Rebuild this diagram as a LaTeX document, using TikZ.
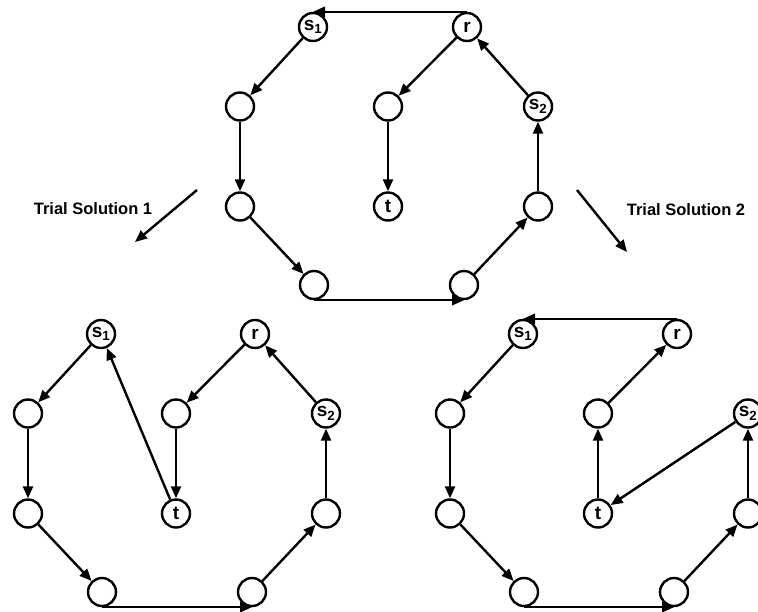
\documentclass[tikz,border=0pt]{standalone}
\usepackage{fontspec}
\setmainfont{Liberation Sans}
\usetikzlibrary{arrows.meta, positioning}

\begin{document}
\begin{tikzpicture}[x=1pt, y=-1pt, >={Triangle[length=12pt,width=10pt]}, line width=2.4pt]
    % Define styles locally
    \tikzstyle{vertex} = [circle, draw, minimum size=28pt, inner sep=0pt, font=\fontsize{19}{19}\selectfont\bfseries]
    \tikzstyle{caption} = [font=\fontsize{16.5}{18}\selectfont\bfseries]
    \useasboundingbox (0,0) rectangle (758,611);

    % Vertices: one layout, shifted for each graph
    \foreach \g/\ox/\oy in {A/313/27, B/101/334, C/523/334} {
        \begin{scope}[shift={(\ox,\oy)}]
            \node[vertex] (\g-s1) at (0,0) {s\textsubscript{1}};
            \node[vertex] (\g-r) at (154,0) {r};
            \node[vertex] (\g-u) at (-73,79.5) {};
            \node[vertex] (\g-m) at (75,79.5) {};
            \node[vertex] (\g-s2) at (225,79.5) {s\textsubscript{2}};
            \node[vertex] (\g-l) at (-73,179.5) {};
            \node[vertex] (\g-t) at (75,179.5) {t};
            \node[vertex] (\g-q) at (225,179.5) {};
            \node[vertex] (\g-b1) at (1,258) {};
            \node[vertex] (\g-b2) at (151,258) {};
        \end{scope}
    }

    % Outer path, the same in all three graphs
    \foreach \g in {A, B, C} {
        \draw[->] (\g-s1) -- (\g-u);
        \draw[->] (\g-u) -- (\g-l);
        \draw[->] (\g-l) -- (\g-b1);
        \draw[->] (\g-b1.south) -- (\g-b2.south);
        \draw[->] (\g-b2) -- (\g-q);
        \draw[->] (\g-q) -- (\g-s2);
    }

    % Initial graph
    \draw[->] (A-r.north) -- (A-s1.north);
    \draw[->] (A-s2) -- (A-r);
    \draw[->] (A-r) -- (A-m);
    \draw[->] (A-m) -- (A-t);

    % Trial solution 1
    \draw[->] (B-s2) -- (B-r);
    \draw[->] (B-r) -- (B-m);
    \draw[->] (B-m) -- (B-t);
    \draw[->] (B-t) -- (B-s1);

    % Trial solution 2
    \draw[->] (C-r.north) -- (C-s1.north);
    \draw[->] (C-s2) -- (C-t);
    \draw[->] (C-t) -- (C-m);
    \draw[->] (C-m) -- (C-r);

    % Captions with their pointers
    \coordinate (p1) at (197,190);
    \coordinate (q1) at (135,242);
    \draw[->] (p1) -- (q1);
    \node[caption] (ts1) at (93,209) {Trial Solution 1};

    \coordinate (p2) at (577,190);
    \coordinate (q2) at (627,252);
    \draw[->] (p2) -- (q2);
    \node[caption] (ts2) at (686,210) {Trial Solution 2};
\end{tikzpicture}
\end{document}
